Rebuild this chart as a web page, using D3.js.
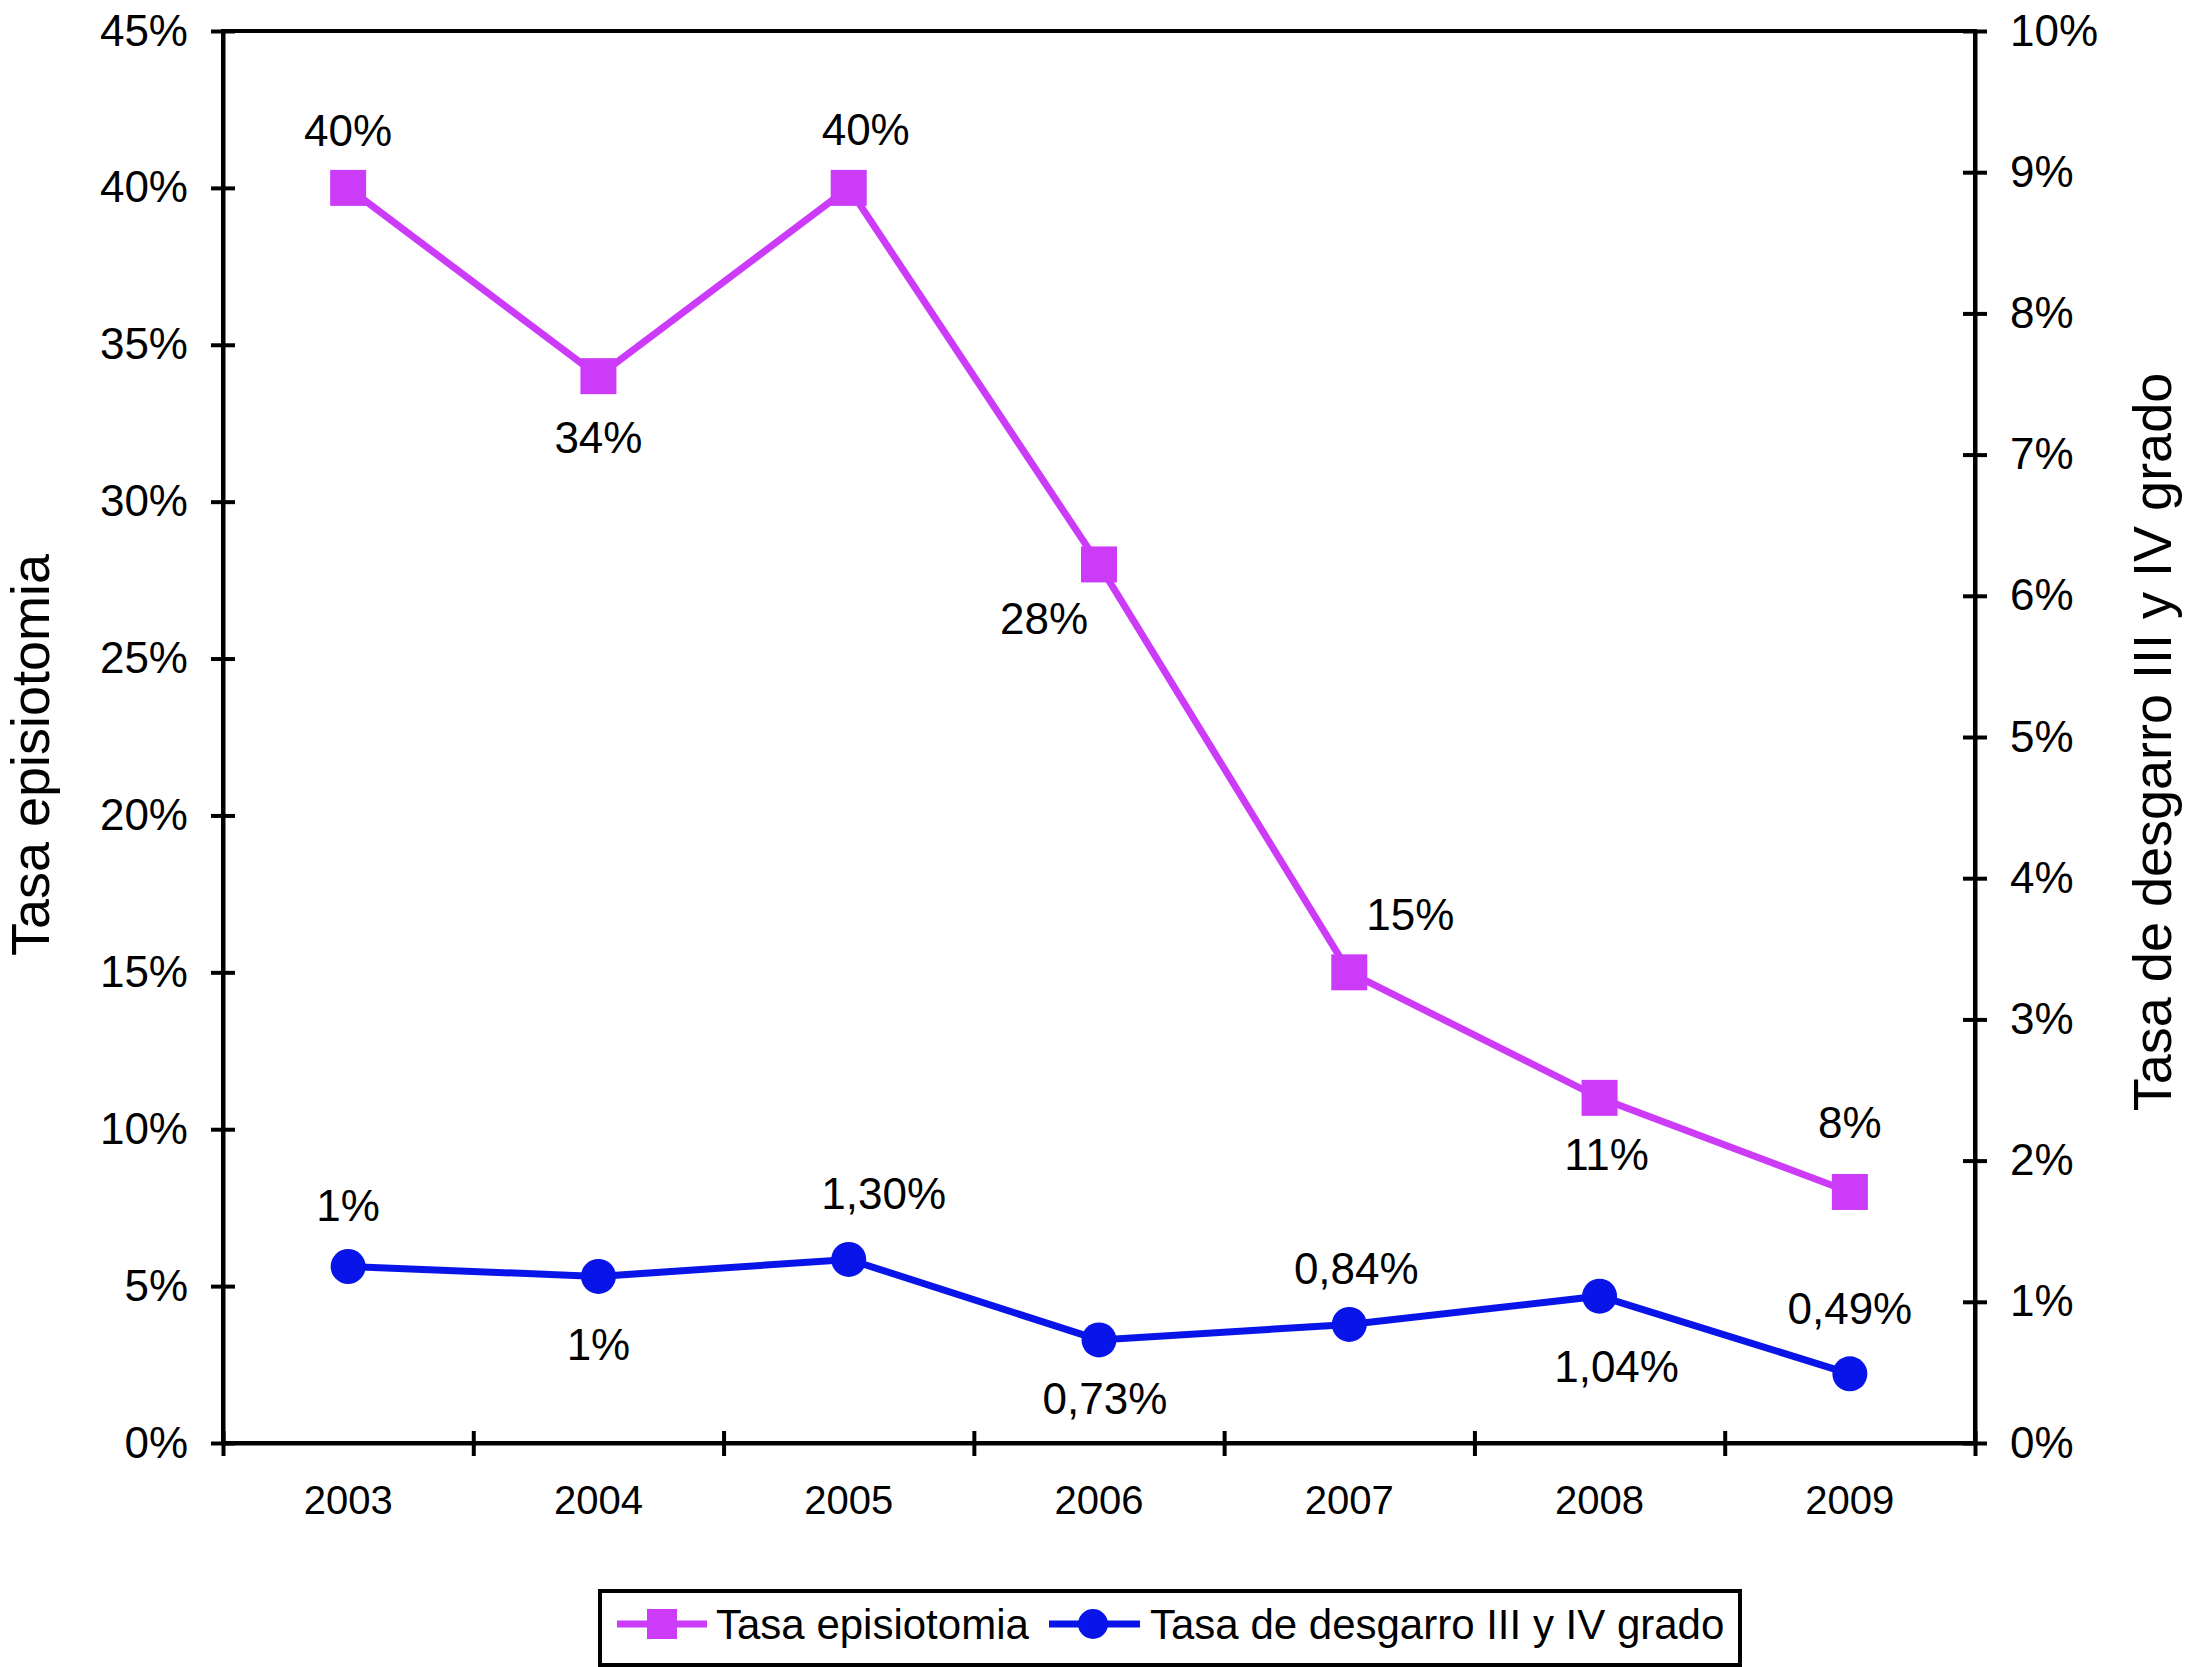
<!DOCTYPE html>
<html>
<head>
<meta charset="utf-8">
<script src="https://cdn.jsdelivr.net/npm/d3@7"></script>
<style>
  body { margin: 0; background: #fff; }
  text { font-family: "Liberation Sans", Arial, Helvetica, sans-serif; fill: #000; }
</style>
</head>
<body>
<div id="chart"></div>
<script>
const years = ['2003', '2004', '2005', '2006', '2007', '2008', '2009'];
const episiotomia = [0.40, 0.34, 0.40, 0.28, 0.15, 0.11, 0.08];
const episiotomiaLabels = ['40%', '34%', '40%', '28%', '15%', '11%', '8%'];
const desgarro = [0.0125, 0.0118, 0.0130, 0.0073, 0.0084, 0.0104, 0.0049];
const desgarroLabels = ['1%', '1%', '1,30%', '0,73%', '0,84%', '1,04%', '0,49%'];
const leftTicks = [0, 0.05, 0.10, 0.15, 0.20, 0.25, 0.30, 0.35, 0.40, 0.45];
const rightTicks = [0, 0.01, 0.02, 0.03, 0.04, 0.05, 0.06, 0.07, 0.08, 0.09, 0.10];

// label offsets (dx, dy) from each marker, as placed in the original
const epiOffsets = [[0, -58], [0, 61], [17, -59], [-55, 54], [61, -58], [7, 56], [0, -70]];
const desOffsets = [[0, -61], [0, 68], [35, -66], [6, 58], [7, -56], [17, 70], [0, -66]];

const width = 2201, height = 1667;
const plot = {left: 223, right: 1975, top: 31, bottom: 1443};
const magenta = '#cc3cf8', blue = '#0814e8';

const svg = d3.select('#chart')
  .append('svg')
  .attr('width', width)
  .attr('height', height);

const x = d3.scaleBand().domain(years).range([plot.left, plot.right]);
const xEdge = d3.scaleLinear().domain([0, years.length]).range([plot.left, plot.right]);
const yLeft = d3.scaleLinear().domain([0, 0.45]).range([plot.bottom, plot.top]);
const yRight = d3.scaleLinear().domain([0, 0.10]).range([plot.bottom, plot.top]);
const pct = d3.format('.0%');

// plot frame
svg.append('rect')
  .attr('x', plot.left).attr('y', plot.top)
  .attr('width', plot.right - plot.left).attr('height', plot.bottom - plot.top)
  .attr('fill', 'none').attr('stroke', '#000').attr('stroke-width', 4);

function styleAxis(g, cross) {
  g.select('.domain').attr('stroke', '#000').attr('stroke-width', 4);
  g.selectAll('.tick line').attr('stroke', '#000').attr('stroke-width', 4);
  if (cross) cross(g.selectAll('.tick line'));
}

// left axis
svg.append('g')
  .attr('transform', `translate(${plot.left},0)`)
  .call(d3.axisLeft(yLeft).tickValues(leftTicks).tickFormat(pct).tickSize(12).tickSizeOuter(0).tickPadding(23))
  .call(g => styleAxis(g, l => l.attr('x1', 12)))
  .call(g => g.selectAll('text').attr('font-size', 44));

// right axis
svg.append('g')
  .attr('transform', `translate(${plot.right},0)`)
  .call(d3.axisRight(yRight).tickValues(rightTicks).tickFormat(pct).tickSize(12).tickSizeOuter(0).tickPadding(23))
  .call(g => styleAxis(g, l => l.attr('x1', -12)))
  .call(g => g.selectAll('text').attr('font-size', 44));

// x axis: ticks on category boundaries
svg.append('g')
  .attr('transform', `translate(0,${plot.bottom})`)
  .call(d3.axisBottom(xEdge).ticks(years.length).tickFormat('').tickSize(13).tickSizeOuter(0))
  .call(g => styleAxis(g, l => l.attr('y1', -12)));

// x labels
svg.append('g')
  .attr('transform', `translate(0,${plot.bottom})`)
  .call(d3.axisBottom(x).tickSize(0).tickPadding(43))
  .call(g => g.select('.domain').remove())
  .call(g => g.selectAll('text').attr('font-size', 40));

// axis titles
svg.append('text')
  .attr('transform', `translate(49,${(plot.top + plot.bottom) / 2 + 18}) rotate(-90)`)
  .attr('text-anchor', 'middle')
  .attr('font-size', 54)
  .text('Tasa episiotomia');

svg.append('text')
  .attr('transform', `translate(2171,${(plot.top + plot.bottom) / 2 + 5}) rotate(-90)`)
  .attr('text-anchor', 'middle')
  .attr('font-size', 54)
  .text('Tasa de desgarro III y IV grado');

const cx = d => x(d) + x.bandwidth() / 2;

// episiotomia series
const lineEpi = d3.line().x((d, i) => cx(years[i])).y(d => yLeft(d));
svg.append('path')
  .datum(episiotomia)
  .attr('d', lineEpi)
  .attr('fill', 'none').attr('stroke', magenta).attr('stroke-width', 7);

svg.selectAll('rect.epi')
  .data(episiotomia)
  .join('rect')
  .attr('class', 'epi')
  .attr('x', (d, i) => cx(years[i]) - 18)
  .attr('y', d => yLeft(d) - 18)
  .attr('width', 36).attr('height', 36)
  .attr('fill', magenta);

svg.selectAll('text.epi')
  .data(episiotomia)
  .join('text')
  .attr('class', 'epi')
  .attr('x', (d, i) => cx(years[i]) + epiOffsets[i][0])
  .attr('y', (d, i) => yLeft(d) + epiOffsets[i][1])
  .attr('dy', '0.36em')
  .attr('text-anchor', 'middle')
  .attr('font-size', 44)
  .text((d, i) => episiotomiaLabels[i]);

// desgarro series
const lineDes = d3.line().x((d, i) => cx(years[i])).y(d => yRight(d));
svg.append('path')
  .datum(desgarro)
  .attr('d', lineDes)
  .attr('fill', 'none').attr('stroke', blue).attr('stroke-width', 7);

svg.selectAll('circle.des')
  .data(desgarro)
  .join('circle')
  .attr('class', 'des')
  .attr('cx', (d, i) => cx(years[i]))
  .attr('cy', d => yRight(d))
  .attr('r', 17.5)
  .attr('fill', blue);

svg.selectAll('text.des')
  .data(desgarro)
  .join('text')
  .attr('class', 'des')
  .attr('x', (d, i) => cx(years[i]) + desOffsets[i][0])
  .attr('y', (d, i) => yRight(d) + desOffsets[i][1])
  .attr('dy', '0.36em')
  .attr('text-anchor', 'middle')
  .attr('font-size', 44)
  .text((d, i) => desgarroLabels[i]);

// legend
const legend = svg.append('g');
legend.append('rect')
  .attr('x', 600).attr('y', 1591)
  .attr('width', 1140).attr('height', 74)
  .attr('fill', '#fff').attr('stroke', '#000').attr('stroke-width', 4);

const ly = 1624;
legend.append('line')
  .attr('x1', 617).attr('x2', 707).attr('y1', ly).attr('y2', ly)
  .attr('stroke', magenta).attr('stroke-width', 7);
legend.append('rect')
  .attr('x', 647).attr('y', ly - 15).attr('width', 30).attr('height', 30)
  .attr('fill', magenta);
legend.append('text')
  .attr('x', 716).attr('y', ly).attr('dy', '0.36em')
  .attr('font-size', 42)
  .text('Tasa episiotomia');

legend.append('line')
  .attr('x1', 1049).attr('x2', 1140).attr('y1', ly).attr('y2', ly)
  .attr('stroke', blue).attr('stroke-width', 7);
legend.append('circle')
  .attr('cx', 1093).attr('cy', ly).attr('r', 15)
  .attr('fill', blue);
legend.append('text')
  .attr('x', 1150).attr('y', ly).attr('dy', '0.36em')
  .attr('font-size', 42)
  .text('Tasa de desgarro III y IV grado');
</script>
</body>
</html>
